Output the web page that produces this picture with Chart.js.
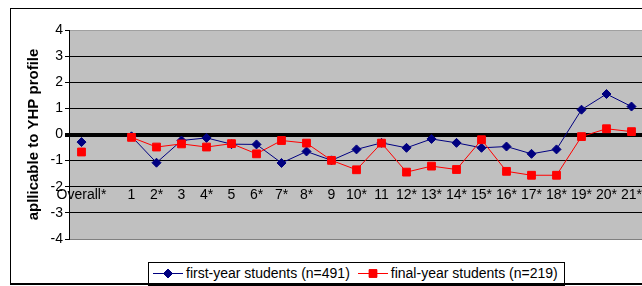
<!DOCTYPE html>
<html>
<head>
<meta charset="utf-8">
<script src="https://cdn.jsdelivr.net/npm/chart.js@4"></script>
<style>
    html, body { margin: 0; padding: 0; background: #fff; overflow: hidden; }
    body { width: 642px; height: 286px; position: relative; font-family: 'Liberation Sans', Arial, sans-serif; }
    #chart { position: absolute; left: 0; top: 0; }
    .frame {
        position: absolute; left: 10px; top: 8px; width: 720px; height: 274px;
        border: 1px solid #000; border-bottom-width: 2px; pointer-events: none;
    }
    .legend {
        position: absolute; left: 148px; top: 262px; width: 417px; height: 24px;
        border: 1px solid #000; background: #fff; font-size: 14px; color: #000;
        display: flex; align-items: center; white-space: nowrap; padding-bottom: 2px; box-sizing: border-box;
    }
    .legend .item { display: flex; align-items: center; }
    .legend canvas { margin: 0 3px 0 4px; }
</style>
</head>
<body>
<canvas id="chart" width="680" height="286"></canvas>
<div class="legend" id="legend"></div>
<div class="frame"></div>
<script>
// Categories (empty slot between Overall and item 1)
const categories = ['Overall*', '', '1', '2*', '3', '4*', '5', '6*', '7*', '8*', '9', '10*',
    '11', '12*', '13*', '14*', '15*', '16*', '17*', '18*', '19*', '20*', '21*'];

// Mean scores per item
const firstYear = [-0.29, null, -0.07, -1.08, -0.23, -0.13, -0.37, -0.38, -1.09, -0.65, -0.99, -0.57,
    -0.32, -0.51, -0.17, -0.32, -0.51, -0.46, -0.74, -0.57, 0.95, 1.55, 1.07];
const finalYear = [-0.67, null, -0.11, -0.48, -0.36, -0.48, -0.35, -0.74, -0.23, -0.33, -0.99, -1.35,
    -0.33, -1.44, -1.21, -1.34, -0.20, -1.41, -1.56, -1.56, -0.08, 0.22, 0.11];

const seriesNames = ['first-year students (n=491)', 'final-year students (n=219)'];
const yMin = -4;
const yMax = 4;

const FONT = "'Liberation Sans', Arial, sans-serif";

// Grey plot background
const plotBackground = {
    id: 'plotBackground',
    beforeDraw(chart) {
        const a = chart.chartArea;
        const ctx = chart.ctx;
        ctx.save();
        ctx.fillStyle = '#c0c0c0';
        ctx.fillRect(a.left, a.top, a.right - a.left, a.bottom - a.top);
        ctx.restore();
    }
};

const ctx = document.getElementById('chart').getContext('2d');
const chart = new Chart(ctx, {
    type: 'line',
    data: {
        labels: categories,
        datasets: [{
            label: seriesNames[0],
            data: firstYear,
            borderColor: '#000080',
            backgroundColor: '#000080',
            borderWidth: 1,
            pointStyle: 'rectRot',
            pointRadius: 4.5,
            pointBorderWidth: 1,
            spanGaps: false,
            order: 2
        }, {
            label: seriesNames[1],
            data: finalYear,
            borderColor: '#ff0000',
            backgroundColor: '#ff0000',
            borderWidth: 1,
            pointStyle: 'rect',
            pointRadius: 5.5,
            pointBorderWidth: 1,
            spanGaps: false,
            order: 1
        }]
    },
    options: {
        responsive: false,
        animation: false,
        layout: {
            padding: { left: 0, top: 30, right: 36, bottom: 47 }
        },
        plugins: {
            legend: { display: false },
            tooltip: { enabled: false }
        },
        scales: {
            x: {
                position: { y: -2 },
                offset: true,
                grid: { display: false, drawTicks: false },
                border: { display: false },
                ticks: {
                    color: '#000',
                    padding: 0,
                    autoSkip: false,
                    maxRotation: 0,
                    font: { family: FONT, size: 14 }
                }
            },
            y: {
                min: yMin,
                max: yMax,
                afterFit(scale) { scale.width = 69; },
                grid: {
                    color(c) {
                        if (c.tick.value === yMax) return '#a0a0a0';
                        if (c.tick.value === yMin) return '#808080';
                        return '#000';
                    },
                    lineWidth(c) { return c.tick.value === 0 ? 4 : 1; },
                    tickLength: 4,
                    tickColor: '#000'
                },
                border: { display: true, color: '#000', width: 1 },
                ticks: {
                    stepSize: 1,
                    color: '#000',
                    padding: 2,
                    font: { family: FONT, size: 14 }
                },
                title: {
                    display: true,
                    text: 'apllicable to YHP profile',
                    color: '#000',
                    padding: { top: 25, bottom: 0 },
                    font: { family: FONT, size: 15, weight: 'bold' }
                }
            }
        }
    },
    plugins: [plotBackground]
});

// HTML legend with line + marker samples
function buildLegend() {
    const legend = document.getElementById('legend');
    chart.data.datasets.forEach((ds, i) => {
        const item = document.createElement('div');
        item.className = 'item';
        if (i > 0) item.style.marginLeft = '4px';
        const sample = document.createElement('canvas');
        sample.width = 30;
        sample.height = 12;
        const sctx = sample.getContext('2d');
        sctx.strokeStyle = ds.borderColor;
        sctx.lineWidth = 1;
        sctx.beginPath();
        sctx.moveTo(0, 6.5);
        sctx.lineTo(30, 6.5);
        sctx.stroke();
        Chart.helpers.drawPoint(sctx, {
            pointStyle: ds.pointStyle,
            radius: ds.pointRadius,
            borderWidth: 1,
            rotation: 0
        }, 15, 6.5);
        sctx.fillStyle = ds.backgroundColor;
        sctx.fill();
        const text = document.createElement('span');
        text.textContent = ds.label;
        item.appendChild(sample);
        item.appendChild(text);
        legend.appendChild(item);
    });
}

buildLegend();
</script>
</body>
</html>
